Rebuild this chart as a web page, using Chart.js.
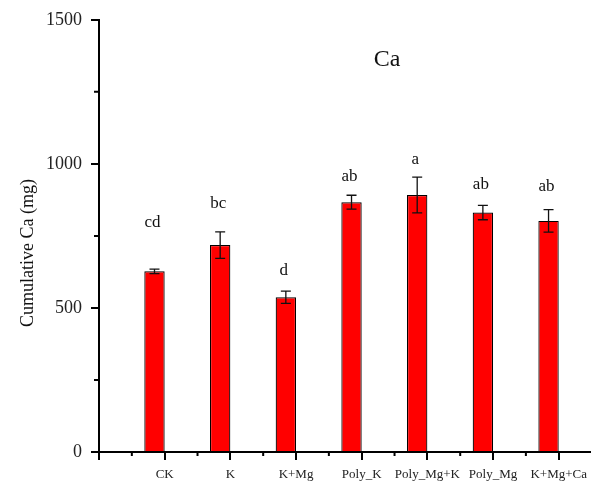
<!DOCTYPE html>
<html lang="en">
<head>
    <meta charset="UTF-8">
    <title>Cumulative Ca</title>
    <!-- Chart.js -->
    <script src="https://cdn.jsdelivr.net/npm/chart.js"></script>
    <style>
        html, body { margin: 0; padding: 0; background: #ffffff; }
        #wrap { width: 594px; height: 484px; }
    </style>
</head>
<body>
    <div id="wrap"><canvas id="caChart" width="594" height="484"></canvas></div>

    <script>
        // Datos
        var categorias = ['CK', 'K', 'K+Mg', 'Poly_K', 'Poly_Mg+K', 'Poly_Mg', 'K+Mg+Ca'];
        var valores = [627, 718, 537, 867, 892, 831, 802];        // Cumulative Ca (mg)
        var errores = [8, 46, 21, 24, 62, 25, 39];                // barras de error
        var letras = ['cd', 'bc', 'd', 'ab', 'a', 'ab', 'ab'];    // letras de significancia
        var letrasY = [795, 861, 629, 957, 1016, 930, 923];       // altura de las letras (mg)
        var ticksY = [0, 500, 1000, 1500];
        var ticksMenoresY = [250, 750, 1250];

        var fuente = "'Liberation Serif', 'Times New Roman', serif";

        // Plugin: ticks menores, barras de error, letras y titulos
        var extras = {
            id: 'extras',
            afterDatasetsDraw: function (chart) {
                var ctx = chart.ctx;
                var x = chart.scales.x;
                var y = chart.scales.y;
                var area = chart.chartArea;
                var meta = chart.getDatasetMeta(0);

                ctx.save();
                ctx.strokeStyle = '#111';
                ctx.lineWidth = 1.3;
                // Barras de error
                for (var i = 0; i < valores.length; i++) {
                    var cx = meta.data[i].x;
                    var yTop = y.getPixelForValue(valores[i] + errores[i]);
                    var yBot = y.getPixelForValue(valores[i] - errores[i]);
                    ctx.beginPath();
                    ctx.moveTo(cx, yTop);
                    ctx.lineTo(cx, yBot);
                    ctx.moveTo(cx - 5, yTop);
                    ctx.lineTo(cx + 5, yTop);
                    ctx.moveTo(cx - 5, yBot);
                    ctx.lineTo(cx + 5, yBot);
                    ctx.stroke();
                }

                // Letras
                ctx.fillStyle = '#111';
                ctx.font = '17px ' + fuente;
                ctx.textAlign = 'center';
                ctx.textBaseline = 'middle';
                for (var j = 0; j < letras.length; j++) {
                    ctx.fillText(letras[j], meta.data[j].x - 2, y.getPixelForValue(letrasY[j]));
                }

                // Ticks menores
                ctx.strokeStyle = '#000';
                ctx.lineWidth = 2;
                ctx.beginPath();
                ticksMenoresY.forEach(function (v) {
                    var py = y.getPixelForValue(v);
                    ctx.moveTo(area.left - 5, py);
                    ctx.lineTo(area.left, py);
                });
                for (var k = -0.5; k < x.max; k += 1) {
                    var px = x.getPixelForValue(k);
                    ctx.moveTo(px, area.bottom);
                    ctx.lineTo(px, area.bottom + 4);
                }
                ctx.stroke();

                // Titulo "Ca"
                ctx.font = '24px ' + fuente;
                ctx.fillText('Ca', area.left + 288, 60);

                // Titulo eje Y
                ctx.font = '18px ' + fuente;
                ctx.translate(28, 253);
                ctx.rotate(-Math.PI / 2);
                ctx.fillText('Cumulative Ca (mg)', 0, 0);
                ctx.restore();
            }
        };

        var ctxCa = document.getElementById('caChart').getContext('2d');
        var caChart = new Chart(ctxCa, {
            type: 'bar',
            data: {
                datasets: [{
                    data: valores.map(function (v, i) { return { x: i, y: v }; }),
                    backgroundColor: '#ff0000',
                    borderColor: '#000000',
                    borderWidth: 1.2,
                    categoryPercentage: 0.62,
                    barPercentage: 1.0
                }, {
                    // serie vacia para desplazar las barras a la izquierda del tick
                    data: valores.map(function (v, i) { return { x: i, y: null }; }),
                    backgroundColor: 'rgba(0,0,0,0)',
                    categoryPercentage: 0.62,
                    barPercentage: 1.0
                }]
            },
            options: {
                responsive: false,
                animation: false,
                layout: { padding: { top: 18, right: 0, left: 0, bottom: 0 } },
                plugins: {
                    legend: { display: false },
                    tooltip: { enabled: false }
                },
                scales: {
                    x: {
                        type: 'linear',
                        offset: false,
                        min: -1,
                        max: 6.47,
                        afterFit: function (scale) { scale.height = 32; },
                        border: { display: true, color: '#000', width: 2 },
                        grid: { display: true, offset: false, drawOnChartArea: false, drawTicks: true, tickLength: 8, color: '#000', lineWidth: 2 },
                        ticks: {
                            stepSize: 1,
                            includeBounds: false,
                            autoSkip: false,
                            maxRotation: 0,
                            padding: 7,
                            color: '#222',
                            font: { family: fuente, size: 13 },
                            callback: function (v) {
                                return (Number.isInteger(v) && v >= 0 && v < categorias.length) ? categorias[v] : '';
                            }
                        }
                    },
                    y: {
                        min: 0,
                        max: 1500,
                        afterFit: function (scale) { scale.width = 99; },
                        afterBuildTicks: function (scale) {
                            scale.ticks = ticksY.map(function (v) { return { value: v }; });
                        },
                        border: { display: true, color: '#000', width: 2 },
                        grid: { display: true, drawOnChartArea: false, drawTicks: true, tickLength: 8, color: '#000', lineWidth: 2 },
                        ticks: {
                            padding: 9,
                            color: '#222',
                            font: { family: fuente, size: 18 },
                            callback: function (v) { return String(v); }
                        }
                    }
                }
            },
            plugins: [extras]
        });
    </script>
</body>
</html>
